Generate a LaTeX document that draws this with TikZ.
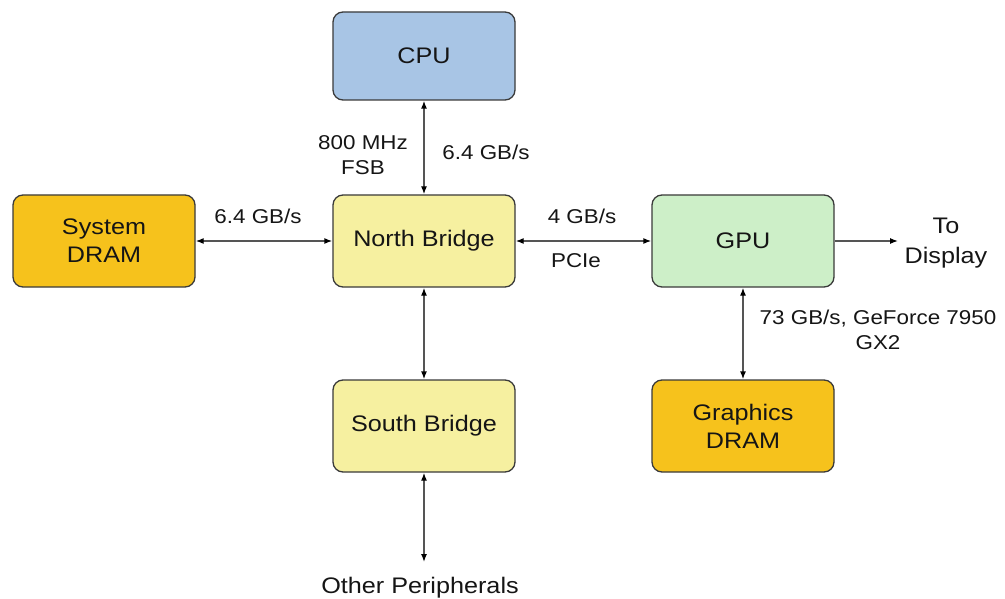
\documentclass[tikz,border=0pt]{standalone}
\usepackage{fontspec}
\setmainfont{Liberation Sans}[FakeStretch=1.12]
\usetikzlibrary{arrows.meta}
\definecolor{cpublue}{HTML}{A8C5E5}
\definecolor{gold}{HTML}{F6C21C}
\definecolor{paleyel}{HTML}{F6F0A0}
\definecolor{palegreen}{HTML}{CDEFC8}
\definecolor{border}{HTML}{3A3A3A}
\definecolor{wire}{HTML}{555555}
\definecolor{ink}{HTML}{151515}
\tikzset{
  blockbox/.style={draw=border, line width=1.3pt, rounded corners=10pt,
    minimum width=182pt, minimum height=92pt, align=center,
    font=\fontsize{22.5}{28}\selectfont, text=ink, inner sep=0pt},
  link/.style={draw=wire, line width=1.3pt,
    {Latex[length=8pt,width=6pt,color=black]}-{Latex[length=8pt,width=6pt,color=black]}},
  onelink/.style={draw=wire, line width=1.3pt, -{Latex[length=8pt,width=6pt,color=black]}},
  lbl/.style={font=\fontsize{20}{25}\selectfont, text=ink, align=center, inner sep=0pt},
  biglbl/.style={font=\fontsize{22.5}{30}\selectfont, text=ink, align=center, inner sep=0pt}
}
\begin{document}
\begin{tikzpicture}[x=1pt,y=-1pt]
\useasboundingbox (0,0) rectangle (1005,599);
\node[blockbox, fill=cpublue, minimum height=88pt] (cpu) at (424,56) {CPU};
\node[blockbox, fill=gold] (sdram) at (104,241) {System\\DRAM};
\node[blockbox, fill=paleyel] (nb) at (424,241) {North Bridge};
\node[blockbox, fill=palegreen] (gpu) at (743,241) {GPU};
\node[blockbox, fill=paleyel] (sb) at (424,426) {South Bridge};
\node[blockbox, fill=gold] (gdram) at (743,426) {Graphics\\DRAM};
\coordinate (periph) at (424,562);
\coordinate (disp) at (898,241);
\node[biglbl] (peritxt) at (420,588) {Other Peripherals};
\node[biglbl] (disptxt) at (946,243) {To\\Display};

\draw[link] (cpu.south) -- (nb.north);
\draw[link] (sdram.east) -- (nb.west);
\draw[link] (nb.east) -- (gpu.west);
\draw[link] (nb.south) -- (sb.north);
\draw[link] (gpu.south) -- (gdram.north);
\draw[link] (sb.south) -- (periph);
\draw[onelink] (gpu.east) -- (disp);

\node[lbl] (fsb) at (363,155) {800 MHz\\FSB};
\node[lbl] (cpubw) at (486,152) {6.4 GB/s};
\node[lbl] (drambw) at (258,216) {6.4 GB/s};
\node[lbl] (pcibw) at (582,216) {4 GB/s};
\node[lbl] (pcie) at (576,261) {PCIe};
\node[lbl] (gfx) at (878,330) {73 GB/s, GeForce 7950\\GX2};
\end{tikzpicture}
\end{document}
